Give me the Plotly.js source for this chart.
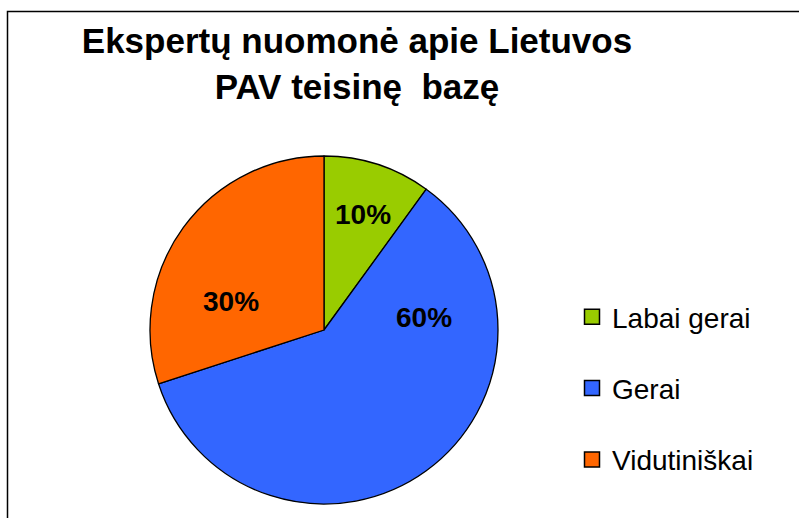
<!DOCTYPE html>
<html><head><meta charset="utf-8">
<script src="https://cdn.plot.ly/plotly-3.0.1.min.js"></script>
<style>html,body{margin:0;padding:0;background:#fff}#chart{width:799px;height:518px}</style>
</head><body><div id="chart"></div>
<script>
const categories = ["Labai gerai", "Gerai", "Vidutiniškai"];
const values = [10, 60, 30];
const colors = ["#99CC00", "#3366FF", "#FF6600"];
const titleText = "Ekspertų nuomonė apie Lietuvos<br>PAV teisinę\u00a0 bazę";

const FONT = "Arial, 'Liberation Sans', sans-serif";
const total = values.reduce((a, b) => a + b, 0);
// label anchor positions (paper coords), as placed in the original chart
const labelPos = [[363/799, 1 - 214/518], [424/799, 1 - 317/518], [231/799, 1 - 301/518]];

const traces = [{
  type: "pie",
  labels: categories,
  values: values,
  sort: false,
  direction: "clockwise",
  rotation: 0,
  marker: {colors: colors, line: {color: "#000", width: 1.3}},
  textinfo: "none",
  hoverinfo: "label+percent",
  domain: {x: [150/799, 498/799], y: [14/518, 362/518]},
  showlegend: false
}];
categories.forEach((c, i) => {
  traces.push({
    type: "scatter", mode: "markers", x: [null], y: [null], name: c,
    legendgroup: "g" + i, showlegend: true,
    marker: {symbol: "square", size: 15, color: colors[i], line: {color: "#000", width: 1.5}}
  });
});

const annotations = values.map((v, i) => ({
  text: Math.round(100 * v / total) + "%",
  xref: "paper", yref: "paper", x: labelPos[i][0], y: labelPos[i][1],
  xanchor: "center", yanchor: "middle", showarrow: false,
  font: {family: FONT, size: 28, color: "#000", weight: "bold"}
}));

const layout = {
  width: 799, height: 518,
  margin: {l: 0, r: 0, t: 0, b: 0},
  paper_bgcolor: "#fff", plot_bgcolor: "#fff",
  font: {family: FONT, color: "#000"},
  title: {text: titleText, font: {family: FONT, size: 35, weight: "bold", color: "#000"},
          x: 357/799, xanchor: "center", xref: "paper", y: 1 - 53/518, yanchor: "top", yref: "container"},
  xaxis: {visible: false}, yaxis: {visible: false},
  showlegend: true,
  legend: {x: 572/799, xanchor: "left", y: 1 - 292/518, yanchor: "top", font: {family: FONT, size: 28, color: "#000"},
           tracegroupgap: 32, bgcolor: "rgba(0,0,0,0)"},
  annotations: annotations,
  shapes: [{type: "rect", xref: "paper", yref: "paper", x0: 7.5/799, x1: 1.05, y0: -0.05, y1: 1 - 11.5/518,
            line: {color: "#000", width: 1.5}, fillcolor: "rgba(0,0,0,0)"}]
};
Plotly.newPlot("chart", traces, layout, {displayModeBar: false, staticPlot: true});
</script></body></html>
